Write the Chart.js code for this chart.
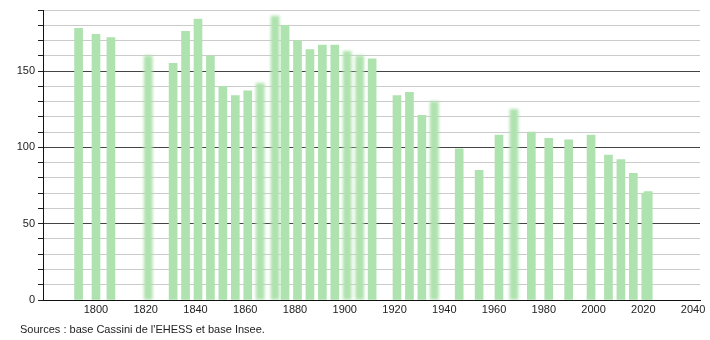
<!DOCTYPE html>
<html lang="fr">
<head>
    <meta charset="UTF-8">
    <title>Évolution de la population</title>
    <script src="https://cdn.jsdelivr.net/npm/chart.js"></script>
    <style>
        body {
            margin: 0;
            background: #fff;
            font-family: "Liberation Sans", Arial, sans-serif;
        }
        .wrap {
            position: relative;
            width: 710px;
            height: 340px;
        }
        .source {
            position: absolute;
            left: 20px;
            top: 323px;
            font-size: 11px;
            color: #222;
        }
    </style>
</head>
<body>
    <div class="wrap">
        <canvas id="popChart" width="710" height="340"></canvas>
        <div class="source">Sources : base Cassini de l'EHESS et base Insee.</div>
    </div>

    <script>
        // census years and population
        const years = [1793, 1800, 1806, 1821, 1831, 1836, 1841, 1846, 1851, 1856, 1861, 1866, 1872, 1876, 1881, 1886, 1891, 1896, 1901, 1906, 1911, 1921, 1926, 1931, 1936, 1946, 1954, 1962, 1968, 1975, 1982, 1990, 1999, 2006, 2011, 2016, 2021, 2022];
        const population = [178, 174, 172, 160, 155, 176, 184, 160, 140, 134, 137, 142, 186, 180, 170, 164, 167, 167, 163, 160, 158, 134, 136, 121, 130, 99, 85, 108, 125, 110, 106, 105, 108, 95, 92, 83, 70, 71];
        // bars drawn with soft edges in the original
        const fuzzyYears = [1821, 1866, 1872, 1901, 1906, 1936, 1968];
        const xTicks = [1800, 1820, 1840, 1860, 1880, 1900, 1920, 1940, 1960, 1980, 2000, 2020, 2040];
        const yLabels = [0, 50, 100, 150];

        const sharpPoints = [];
        const fuzzyPoints = [];
        years.forEach((y, i) => {
            const pt = { x: y, y: population[i] };
            if (fuzzyYears.includes(y)) fuzzyPoints.push(pt);
            else sharpPoints.push(pt);
        });

        const barColor = '#aee2ae';

        // blur the "fuzzy" dataset
        const blurPlugin = {
            id: 'blurBars',
            beforeDatasetDraw(chart, args) {
                if (chart.data.datasets[args.index].fuzzy) {
                    chart.ctx.save();
                    chart.ctx.filter = 'blur(1.5px)';
                }
            },
            afterDatasetDraw(chart, args) {
                if (chart.data.datasets[args.index].fuzzy) {
                    chart.ctx.restore();
                }
            }
        };

        const ctx = document.getElementById('popChart').getContext('2d');
        const popChart = new Chart(ctx, {
            type: 'bar',
            data: {
                datasets: [{
                    data: sharpPoints,
                    backgroundColor: barColor,
                    barThickness: 8,
                    grouped: false
                }, {
                    data: fuzzyPoints,
                    fuzzy: true,
                    backgroundColor: barColor,
                    barThickness: 8,
                    grouped: false
                }]
            },
            options: {
                responsive: false,
                animation: false,
                layout: {
                    padding: { top: 10, right: 10, bottom: 20, left: 0 }
                },
                plugins: {
                    legend: { display: false },
                    tooltip: { enabled: false }
                },
                scales: {
                    x: {
                        type: 'linear',
                        offset: false,
                        min: 1778.7,
                        max: 2042.8,
                        afterBuildTicks(scale) {
                            scale.ticks = xTicks.map(v => ({ value: v }));
                        },
                        afterFit(scale) {
                            scale.height = 20;
                        },
                        grid: { display: false, drawTicks: false, tickLength: 0 },
                        border: { color: '#111', width: 1 },
                        ticks: {
                            padding: 3,
                            maxRotation: 0,
                            autoSkip: false,
                            color: '#222',
                            font: { family: '"Liberation Sans", Arial, sans-serif', size: 11 },
                            callback: v => String(v)
                        }
                    },
                    y: {
                        min: 0,
                        max: 190,
                        afterFit(scale) {
                            scale.width = 43;
                        },
                        ticks: {
                            stepSize: 10,
                            maxTicksLimit: 30,
                            autoSkip: false,
                            padding: 3,
                            color: '#222',
                            font: { family: '"Liberation Sans", Arial, sans-serif', size: 11 },
                            callback: v => yLabels.includes(v) ? String(v) : ''
                        },
                        grid: {
                            color: c => (c.tick && c.tick.value % 50 === 0) ? '#444' : '#cbcbcb',
                            tickColor: '#222',
                            tickLength: 5
                        },
                        border: { color: '#111', width: 1 }
                    }
                }
            },
            plugins: [blurPlugin]
        });
    </script>
</body>
</html>
